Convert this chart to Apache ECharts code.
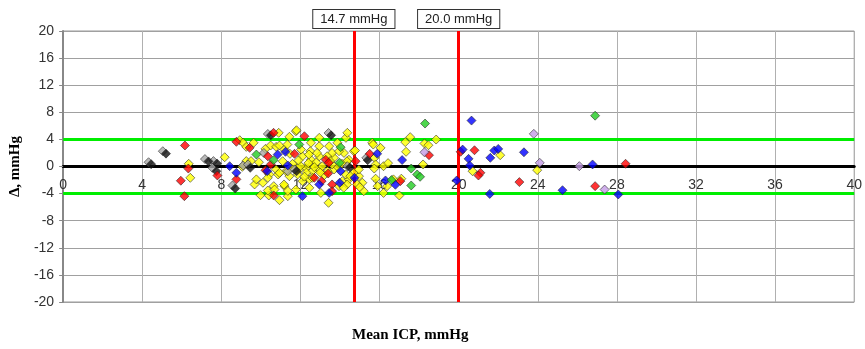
<!DOCTYPE html>
<html>
<head>
<meta charset="utf-8">
<script src="https://cdn.jsdelivr.net/npm/echarts@6/dist/echarts.min.js"></script>
<style>
  html, body { margin: 0; padding: 0; background: #fff; }
  #chart { width: 865px; height: 349px; }
</style>
</head>
<body>
<div id="chart"></div>
<script>
// [mean ICP, delta] pairs, one list per marker colour
const grayPoints = [
  [4.32, 0.63], [5.04, 2.26], [7.17, 1.1], [7.6, 0.8], [7.55, -0.2], [8.56, -2.8],
  [9.1, 0.15], [9.35, 0.3], [10.15, 2.0], [10.35, 4.8], [11.36, -0.7], [11.7, -0.44],
  [13.42, 4.95], [14.37, 0.05], [15.33, 1.28]
];
const blackPoints = [
  [4.45, 0.35], [5.2, 1.9], [7.35, 0.75], [7.78, 0.45], [7.75, -0.7], [8.7, -3.24],
  [9.46, -0.2], [10.5, 4.6], [13.55, 4.6], [15.4, 0.93], [14.5, -0.15], [11.8, -0.7]
];
const redPoints = [
  [6.16, 3.1], [6.33, -0.3], [5.95, -2.1], [6.13, -4.38], [7.8, -1.33], [8.76, -1.9],
  [8.76, 3.64], [9.43, 2.75], [10.23, -0.55], [10.64, 4.97], [10.35, 1.5], [10.5, 0.3],
  [10.65, -4.28], [11.7, 1.87], [12.2, 4.47], [13.28, 1.0], [13.43, 0.54], [14.79, 0.78],
  [13.4, -1.03], [13.07, -2.16], [12.7, -1.67], [13.6, -2.65], [13.6, -3.64], [15.5, 1.87],
  [17.05, -2.16], [18.5, 1.67], [20.1, 2.17], [20.8, 2.4], [21.1, -0.93], [21.0, -1.33],
  [23.07, -2.3], [26.9, -2.9], [28.44, 0.4]
];
const bluePoints = [
  [8.42, 0.05], [8.76, -0.93], [10.85, 1.77], [11.24, 2.17], [11.36, 0.15], [10.32, -0.69],
  [14.03, -0.69], [14.73, -1.67], [13.45, -3.9], [12.95, -2.65], [12.1, -4.38], [13.98, -2.4],
  [15.88, 1.87], [16.3, -2.06], [16.8, -2.7], [17.14, 0.95], [19.9, -2.06], [20.2, 2.5],
  [20.5, 1.13], [20.65, 6.78], [20.56, 0.15], [21.6, 1.28], [21.8, 2.36], [22.0, 2.6],
  [21.57, -4.05], [23.3, 2.1], [25.25, -3.5], [26.77, 0.3], [28.07, -4.13]
];
const greenPoints = [
  [9.77, 1.77], [10.64, 0.93], [11.94, 3.24], [14.03, 2.85], [13.98, 0.55], [16.6, -2.0],
  [17.6, -0.3], [17.9, -1.18], [18.05, -1.52], [17.6, -2.8], [18.3, 6.34], [26.9, 7.5]
];
const purplePoints = [
  [18.27, 2.1], [23.8, 4.82], [24.1, 0.54], [26.1, 0.05], [27.38, -3.4]
];
const yellowPoints = [
  [6.35, 0.4], [6.43, -1.67], [8.17, 1.37], [8.93, 3.88], [9.1, 3.5], [9.26, 2.9],
  [9.63, 3.5], [9.06, -0.05], [9.26, 0.8], [9.5, 0.8], [9.9, 0.63], [10.23, 2.6],
  [9.68, -2.65], [9.77, -1.9], [9.98, -4.23], [10.4, -4.28], [10.35, -3.54], [10.65, -2.9],
  [10.94, -4.97], [11.36, -4.38], [11.19, -2.9], [10.49, 3.1], [10.77, 2.9], [10.94, 3.1],
  [10.9, 4.97], [11.44, 4.38], [11.19, 2.5], [11.77, 5.2], [10.77, -0.44], [11.27, -0.69],
  [11.44, -1.43], [10.43, -1.18], [10.87, -1.18], [11.94, -0.44], [11.1, 0.78], [10.1, -2.4],
  [10.35, -1.67], [10.69, -3.4], [11.77, -3.4], [11.36, -3.6], [12.1, -2.16], [12.45, -1.9],
  [12.45, -3.15], [13.03, -3.9], [13.42, -5.36], [13.95, -2.9], [14.12, -2.16], [14.45, -1.9],
  [14.7, -0.93], [14.29, -1.18], [13.7, -0.44], [13.37, -0.69], [12.95, -0.44], [12.6, -0.69],
  [11.86, -1.18], [10.94, -0.93], [11.77, -0.2], [12.28, -0.2], [12.6, 0.3], [13.1, 0.05],
  [13.6, 0.3], [14.45, 1.0], [14.7, 2.26], [14.2, 2.0], [13.7, 1.28], [13.6, 2.0],
  [13.95, 2.26], [12.95, 1.5], [12.53, 1.0], [12.1, 1.5], [11.47, 1.87], [12.03, 2.5],
  [12.5, 2.26], [12.95, 3.0], [13.45, 3.0], [13.87, 3.5], [14.3, 4.23], [14.37, 4.97],
  [12.95, 4.23], [12.53, 3.5], [11.8, 5.35], [11.34, 3.24], [12.43, 1.77], [12.84, 2.0],
  [13.35, 1.52], [14.35, 0.78], [11.17, -2.65], [14.52, -1.43], [14.36, -2.65], [14.19, -3.15],
  [12.6, -1.67], [14.76, 2.36], [15.63, 3.5], [16.05, 2.75], [15.75, 1.28], [15.8, 0.3],
  [15.73, -0.3], [16.2, 0.05], [16.43, 0.5], [15.13, -2.4], [14.96, -1.43], [15.2, -3.64],
  [15.8, -1.8], [15.9, -2.9], [16.2, -3.9], [16.38, -2.9], [16.7, -1.9], [17.1, -1.8],
  [17.0, -4.28], [17.34, 2.17], [17.3, 3.6], [17.55, 4.33], [18.27, 3.4], [18.47, 3.14],
  [18.2, 0.3], [18.86, 3.98], [20.7, -0.69], [22.1, 1.67], [23.97, -0.54], [14.87, -2.65],
  [15.0, -3.05], [14.95, -0.44], [15.68, 3.24], [11.6, 0.4], [12.0, 0.1], [12.3, -0.9],
  [12.8, 0.6], [13.2, -1.3], [13.9, -0.1], [12.2, -1.5], [11.5, -0.2], [12.7, -0.1],
  [13.5, 0.8], [14.1, 0.4], [11.9, 0.9], [12.4, 0.5], [13.0, -0.9]
];

const limitLines = [4, -4];
const thresholdLines = [14.7, 20.0];
const thresholdLabels = ["14.7 mmHg", "20.0 mmHg"];

const gridTop = 31;
const gridBottom = 47;
const chartHeight = 349;
// x axis sits on the zero line, halfway up the plot
const zeroOffset = -(chartHeight - gridTop - gridBottom) / 2;

const chart = echarts.init(document.getElementById("chart"));

const scatter = (name, data, color) => ({
  name,
  type: "scatter",
  data,
  symbol: "diamond",
  symbolSize: 9,
  z: 5,
  itemStyle: {
    color,
    borderColor: "#222",
    borderWidth: 0.7,
  },
});

chart.setOption({
  animation: false,
  title: {
    text: "Mean ICP, mmHg",
    left: 352,
    top: 328,
    padding: 0,
    textStyle: {
      fontFamily: "Liberation Serif",
      fontWeight: "bold",
      fontSize: 15,
      color: "#000",
    },
  },
  grid: {
    left: 59,
    right: 10,
    top: gridTop,
    bottom: gridBottom,
    show: true,
    borderColor: "#999",
    borderWidth: 1,
  },
  xAxis: {
    type: "value",
    min: 0,
    max: 40,
    interval: 4,
    position: "bottom",
    offset: zeroOffset,
    axisLine: {
      onZero: false,
      lineStyle: { color: "#000", width: 3 },
    },
    axisTick: { show: false },
    axisLabel: {
      margin: 12,
      fontFamily: "Liberation Sans",
      fontSize: 14,
      color: "#333",
    },
    splitLine: { lineStyle: { color: "#b0b0b0", width: 1 } },
  },
  yAxis: {
    type: "value",
    min: -20,
    max: 20,
    interval: 4,
    name: "Δ, mmHg",
    nameLocation: "middle",
    nameGap: 25,
    nameTextStyle: {
      fontFamily: "Liberation Serif",
      fontWeight: "bold",
      fontSize: 15,
      color: "#000",
    },
    axisLine: { show: true, onZero: false, lineStyle: { color: "#888", width: 2 } },
    axisTick: { show: true, length: 4, lineStyle: { color: "#888" } },
    axisLabel: {
      margin: 9,
      fontFamily: "Liberation Sans",
      fontSize: 14,
      color: "#333",
    },
    splitLine: { lineStyle: { color: "#a0a0a0", width: 1 } },
  },
  series: [
    {
      name: "lines",
      type: "scatter",
      data: [],
      z: 2,
      markLine: {
        silent: true,
        symbol: "none",
        animation: false,
        data: [
          ...limitLines.map((v) => ({
            yAxis: v,
            lineStyle: { color: "#00ee00", width: 3, type: "solid" },
            label: { show: false },
          })),
          ...thresholdLines.map((v, i) => ({
            xAxis: v,
            lineStyle: { color: "#ff0000", width: 3, type: "solid" },
            label: {
              show: true,
              position: "end",
              distance: 3,
              formatter: thresholdLabels[i],
              fontFamily: "Liberation Sans",
              fontSize: 13,
              color: "#222",
              backgroundColor: "#fff",
              borderColor: "#333",
              borderWidth: 1,
              padding: [3, 7, 2, 7],
            },
          })),
        ],
      },
    },
    scatter("yellow", yellowPoints, "#ffff00"),
    scatter("gray", grayPoints, "#a8a8a8"),
    scatter("black", blackPoints, "#111"),
    scatter("red", redPoints, "#ff0000"),
    scatter("blue", bluePoints, "#0000ff"),
    scatter("green", greenPoints, "#22cc22"),
    scatter("purple", purplePoints, "#c39be6"),
  ],
});
</script>
</body>
</html>
